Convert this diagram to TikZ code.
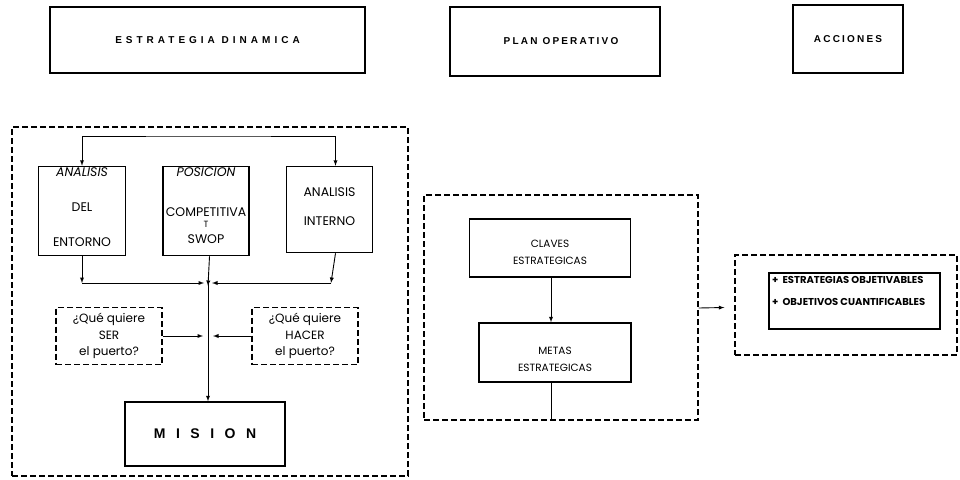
\documentclass[tikz,border=0pt]{standalone}
\usepackage{fontspec}
\setmainfont{Poppins}
\newfontfamily\headfont[LetterSpace=40]{Liberation Sans}
\newfontfamily\headnarrow[LetterSpace=22]{Liberation Sans}
\newfontfamily\misionfont[LetterSpace=75]{Liberation Sans}
\usetikzlibrary{positioning}

\begin{document}
\begin{tikzpicture}[x=1pt, y=-1pt, >=latex,
	  head/.style={draw, line width=1.6pt, inner sep=0pt, font=\headfont\bfseries\fontsize{10}{12}\selectfont},
	  box/.style={draw, line width=1.5pt, align=center, inner sep=0pt, font=\fontsize{12.5}{15}\selectfont},
	  frame/.style={draw, line width=1.4pt, dash pattern=on 6pt off 3pt, inner sep=0pt},
	  link/.style={->, line width=0.9pt},
	]
	\useasboundingbox (0,0) rectangle (960,479);
	
	% Titulos
	\node[head, minimum width=315pt, minimum height=66pt] (estrategia) at (207.5,40) {ESTRATEGIA DINAMICA};
	\node[head, font=\headnarrow\bfseries\fontsize{10}{12}\selectfont, minimum width=210pt, minimum height=69pt] (plan) at (555,41.5) {\hspace*{12pt}PLAN OPERATIVO};
	\node[head, font=\headnarrow\bfseries\fontsize{10}{12}\selectfont, minimum width=110pt, minimum height=68pt] (acciones) at (848,39) {ACCIONES};
	
	% Estrategia dinamica
	\node[frame, minimum width=396pt, minimum height=349pt] (estbox) at (210,301.5) {};
	\node[box, minimum width=87pt, minimum height=89pt] (entorno) at (82,211) {\parbox[c][86pt][t]{84pt}{\centering\textit{ANALISIS}\\[20pt]DEL\\[20pt]ENTORNO}};
	\node[box, minimum width=86pt, minimum height=89pt, right=36pt of entorno] (posicion) {\parbox[c][86pt][t]{84pt}{\centering\textit{POSICION}\\[25pt]COMPETITIVA\\[-4pt]{\small T}\\[1pt]SWOP}};
	\node[box, minimum width=86pt, minimum height=86pt, right=36pt of posicion, yshift=1.5pt] (interno) {\parbox[c][80pt][t]{84pt}{\centering\vspace*{18pt}ANALISIS\\[14pt]INTERNO}};
	\node[box, frame, minimum width=106pt, minimum height=57pt, font=\fontsize{12}{16.5}\selectfont] (ser) at (109,336) {¿Qué quiere\\SER\\el puerto?};
	\node[box, frame, minimum width=106pt, minimum height=57pt, font=\fontsize{12}{16.5}\selectfont] (hacer) at (305,336) {¿Qué quiere\\HACER\\el puerto?};
	\node[box, minimum width=160pt, minimum height=64pt, font=\misionfont\bfseries\fontsize{14}{16}\selectfont] (mision) at (205,434) {MISION};
	
	\coordinate (top) at (208,136);
	\coordinate (jn) at (208,283);
	\coordinate (cl) at (82,283);
	\coordinate (cr) at (331,283);
	
	\draw[<->, line width=0.9pt] (entorno.north) |- (top) -| ([xshift=6pt]interno.north);
	\draw[link] (entorno.south) -- (cl);
	\draw[link] (cl) -- ([xshift=-4pt]jn);
	\draw[link] ([xshift=6pt]interno.south) -- (cr);
	\draw[link] (cr) -- ([xshift=4pt]jn);
	\draw[link] ([xshift=3.5pt]posicion.south) -- ([yshift=-3pt]jn);
	\draw[link] ([yshift=2pt]jn) -- (jn |- mision.north);
	\draw[link] (ser.east) -- ([xshift=-5pt]ser.east -| jn);
	\draw[link] (hacer.west) -- ([xshift=5pt]hacer.west -| jn);
	
	% Plan operativo
	\node[frame, minimum width=274pt, minimum height=225pt] (planbox) at (561,307.5) {};
	\node[box, minimum width=161pt, minimum height=58pt, font=\fontsize{10.5}{17}\selectfont] (claves) at (550,248) {\parbox[c][54pt][t]{157pt}{\centering\vspace*{19pt}CLAVES\\ESTRATEGICAS}};
	\node[box, minimum width=152pt, minimum height=59pt, font=\fontsize{10.5}{17}\selectfont] (metas) at (555,352.5) {\parbox[c][55pt][t]{148pt}{\centering\vspace*{22pt}METAS\\ESTRATEGICAS}};
	\draw[link] (claves.south -| 551,0) -- (metas.north -| 551,0);
	\draw[line width=0.9pt] (metas.south -| 551,0) -- (planbox.south -| 551,0);
	
	% Acciones
	\node[frame, minimum width=222pt, minimum height=100pt] (accbox) at (846,305) {};
	\node[draw, line width=1.5pt, inner sep=3pt, font=\bfseries\fontsize{10}{12}\selectfont] (objetivos) at (854.5,301) {\parbox[c][50pt][t]{165pt}{+\ \ ESTRATEGIAS OBJETIVABLES\\[10pt]+\ \ OBJETIVOS CUANTIFICABLES}};
	\draw[link] ([yshift=-0.5pt]planbox.east) -- ([xshift=-10pt]planbox.east -| accbox.west);
	
\end{tikzpicture}
\end{document}
